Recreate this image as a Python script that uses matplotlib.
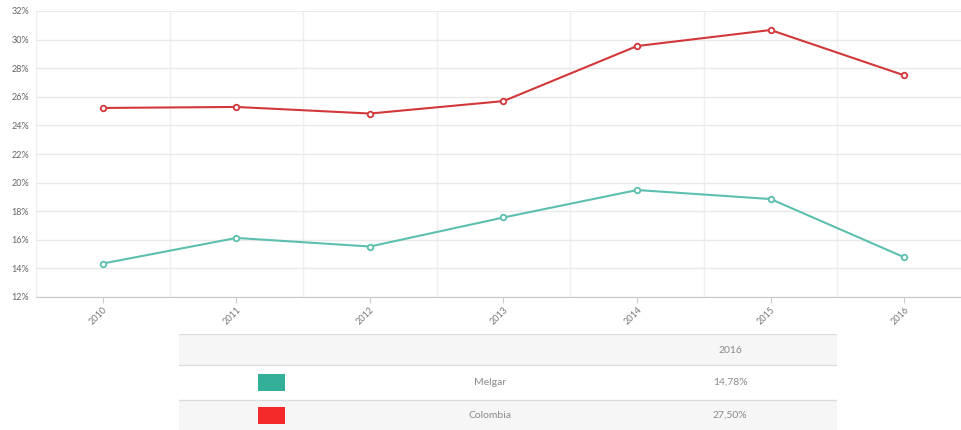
import matplotlib
matplotlib.use("Agg")
import matplotlib.pyplot as plt
from matplotlib.patches import Rectangle

# --- data ---------------------------------------------------------------
years = ["2010", "2011", "2012", "2013", "2014", "2015", "2016"]
melgar = [14.34, 16.13, 15.53, 17.56, 19.48, 18.85, 14.78]
colombia = [25.22, 25.29, 24.83, 25.70, 29.55, 30.67, 27.50]
series_names = ["Melgar", "Colombia"]
y_ticks = [12, 14, 16, 18, 20, 22, 24, 26, 28, 30, 32]

line_colors = ["#5dbfae", "#d2373a"]
swatch_colors = ["#33ae98", "#f42a2a"]
txt = "#8a8a8a"
grid = "#efefef"

plt.rcParams["font.family"] = ["Lato", "DejaVu Sans"]

W, H = 961, 430
fig = plt.figure(figsize=(W / 100, H / 100), dpi=100)


def fx(px):
    return px / W


def fy(py):
    return 1 - py / H


# --- line chart ---------------------------------------------------------
ax = fig.add_axes([fx(36), fy(297), fx(971) - fx(36), fy(11) - fy(297)])
x = list(range(len(years)))
for vals, c in zip([melgar, colombia], line_colors):
    ax.plot(x, vals, color=c, lw=1.5, marker="o", ms=4, mfc="white",
            mec=c, mew=1.3, zorder=3)

ax.set_xlim(-0.5, len(years) - 0.5)
ax.set_ylim(y_ticks[0], y_ticks[-1])
ax.set_yticks(y_ticks)
ax.set_yticklabels([f"{t}%" for t in y_ticks])
ax.set_xticks(x)
ax.set_xticklabels(years, rotation=45, ha="right", rotation_mode="anchor")

# category boundary grid lines
ax.set_xticks([i - 0.5 for i in range(len(years) + 1)], minor=True)
ax.grid(True, axis="y", color="#e9e9e9", lw=1)
ax.grid(True, axis="x", which="minor", color=grid, lw=1)
ax.set_axisbelow(True)

for s in ["top", "right", "left"]:
    ax.spines[s].set_visible(False)
ax.spines["bottom"].set_color("#c8c8c8")
ax.tick_params(axis="y", length=0, labelsize=6.5, labelcolor="#666666", pad=5)
ax.tick_params(axis="x", which="major", length=4, color="#cccccc",
               labelsize=6.5, labelcolor="#777777", pad=2)
ax.tick_params(axis="x", which="minor", length=0)

# --- legend table -------------------------------------------------------
tx = fig.add_axes([fx(179), 0, fx(837) - fx(179), fy(334)])
tx.set_xlim(179, 837)
tx.set_ylim(430, 334)
tx.axis("off")

row_edges = [334, 365, 400, 435]
row_fill = ["#f6f6f6", "white", "#f6f6f6"]
for i, fc in enumerate(row_fill):
    tx.add_patch(Rectangle((179, row_edges[i]), 658, row_edges[i + 1] - row_edges[i],
                           fc=fc, ec="none", zorder=0))
for yy in row_edges[:3]:
    tx.plot([179, 837], [yy, yy], color="#dddddd", lw=1, zorder=1)

tx.text(730, 350, years[-1], ha="center", va="center", fontsize=7.5,
        color=txt, zorder=5)
last_vals = [melgar[-1], colombia[-1]]
for i, (name, v, c) in enumerate(zip(series_names, last_vals, swatch_colors)):
    yc = (row_edges[i + 1] + min(row_edges[i + 2], 430)) / 2
    tx.add_patch(Rectangle((258, yc - 8.5), 27, 17, fc=c, ec="none", zorder=2))
    tx.text(490, yc, name, ha="center", va="center", fontsize=7.5,
            color=txt, zorder=5)
    tx.text(730, yc, f"{v:.2f}%".replace(".", ","), ha="center", va="center",
            fontsize=7.5, color=txt, zorder=5)

fig.savefig("out.png", dpi=100)
